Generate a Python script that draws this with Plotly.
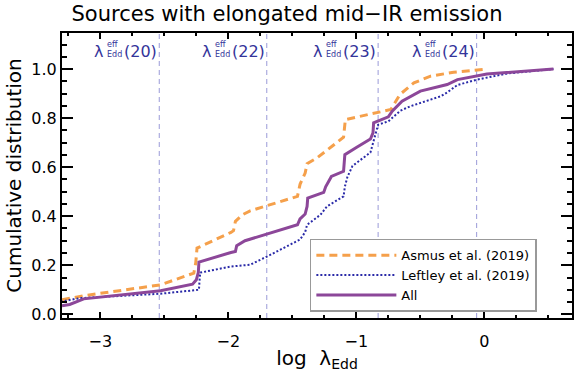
import plotly.graph_objects as go

# ---------------- data ----------------
all_x = [-3.30, -3.24, -3.13, -2.53, -2.28, -2.25, -2.235, -2.23, -1.98, -1.945, -1.935, -1.87,
         -1.46, -1.44, -1.40, -1.385, -1.38, -1.28, -1.255, -1.24, -1.195, -1.10, -1.09, -1.00,
         -0.89, -0.87, -0.865, -0.75, -0.72, -0.643, -0.50, -0.29, -0.21, 0.02, 0.54]
all_y = [0.035, 0.040, 0.063, 0.096, 0.123, 0.141, 0.170, 0.213, 0.252, 0.256, 0.280, 0.300,
         0.365, 0.389, 0.409, 0.440, 0.474, 0.490, 0.497, 0.520, 0.562, 0.583, 0.651, 0.680,
         0.715, 0.740, 0.781, 0.805, 0.828, 0.869, 0.910, 0.937, 0.957, 0.980, 1.000]

asmus_x = [-3.30, -3.13, -2.53, -2.27, -2.255, -2.245, -1.98, -1.96, -1.945, -1.89, -1.83,
           -1.46, -1.44, -1.40, -1.385, -1.31, -1.19, -1.10, -1.086, -0.84, -0.73, -0.66,
           -0.55, -0.42, -0.24, 0.02]
asmus_y = [0.059, 0.076, 0.120, 0.168, 0.210, 0.270, 0.334, 0.341, 0.379, 0.406, 0.422,
           0.481, 0.530, 0.576, 0.614, 0.637, 0.685, 0.722, 0.794, 0.821, 0.835, 0.896,
           0.944, 0.971, 0.987, 1.000]

leftley_x = [-3.31, -3.16, -2.53, -2.23, -2.225, -2.22, -1.98, -1.83, -1.67, -1.44, -1.40,
             -1.385, -1.28, -1.23, -1.10, -1.09, -1.07, -1.03, -0.89, -0.865, -0.83, -0.75,
             -0.656, -0.58, -0.34, -0.29, -0.21, -0.057, 0.18, 0.54]
leftley_y = [0.052, 0.066, 0.084, 0.100, 0.140, 0.170, 0.195, 0.202, 0.243, 0.305, 0.335,
             0.365, 0.406, 0.440, 0.481, 0.520, 0.560, 0.605, 0.660, 0.705, 0.773, 0.787,
             0.830, 0.848, 0.889, 0.905, 0.935, 0.957, 0.982, 1.000]

vline_x = [-2.54, -1.70, -0.83, -0.06]
vline_labels = ["(20)", "(22)", "(23)", "(24)"]

x_ticks = [-3, -2, -1, 0]
x_ticklabels = ["\u22123", "\u22122", "\u22121", "0"]
y_ticks = [0.0, 0.2, 0.4, 0.6, 0.8, 1.0]
y_ticklabels = ["0.0", "0.2", "0.4", "0.6", "0.8", "1.0"]

# ---------------- styles ----------------
FONT = "DejaVu Sans"
C_ALL = "#8c4799"
C_ASM = "#f5a04b"
C_LEF = "#2a2aa8"
C_VL = "#9a9ad8"
C_LAB = "#34349a"

fig = go.Figure()

fig.add_trace(go.Scatter(x=asmus_x, y=asmus_y, mode="lines", name="Asmus et al. (2019)",
                         line=dict(color=C_ASM, width=3, dash="8px,5px")))
fig.add_trace(go.Scatter(x=leftley_x, y=leftley_y, mode="lines", name="Leftley et al. (2019)",
                         line=dict(color=C_LEF, width=2, dash="2px,2px")))
fig.add_trace(go.Scatter(x=all_x, y=all_y, mode="lines", name="All",
                         line=dict(color=C_ALL, width=3)))

for xv, lab in zip(vline_x, vline_labels):
    fig.add_shape(type="line", xref="x", yref="paper", x0=xv, x1=xv, y0=0, y1=1,
                  line=dict(color=C_VL, width=1, dash="5px,4px"), layer="below")
    fig.add_annotation(x=xv, y=1.073, xref="x", yref="y", text="\u03bb", showarrow=False,
                       xanchor="right", yanchor="middle", xshift=-55, borderpad=0,
                       font=dict(family=FONT, size=16, color=C_LAB))
    fig.add_annotation(x=xv, y=1.078, xref="x", yref="y", text="eff<br>Edd", showarrow=False,
                       xanchor="left", yanchor="middle", xshift=-53, align="left", borderpad=0,
                       font=dict(family=FONT, size=8, color=C_LAB))
    fig.add_annotation(x=xv, y=1.073, xref="x", yref="y", text=lab, showarrow=False,
                       xanchor="right", yanchor="middle", xshift=-1, borderpad=0,
                       font=dict(family=FONT, size=16, color=C_LAB))

axis_common = dict(showgrid=False, zeroline=False, showline=True, linecolor="black",
                   linewidth=2, ticks="inside", mirror="allticks", tickcolor="black",
                   tickwidth=1.5, automargin=False,
                   tickfont=dict(family=FONT, size=16, color="black"))

fig.update_xaxes(range=[-3.3, 0.685], tickvals=x_ticks, ticktext=x_ticklabels,
                 ticklen=6, ticklabelstandoff=8,
                 minor=dict(dtick=0.25, ticks="inside", ticklen=3, tickcolor="black", tickwidth=1.5),
                 title=dict(text="log  \u03bb<sub>Edd</sub>", font=dict(family=FONT, size=20, color="black"),
                            standoff=8),
                 **axis_common)
fig.update_yaxes(range=[-0.015, 1.147], tickvals=y_ticks, ticktext=y_ticklabels,
                 ticklen=11,
                 minor=dict(dtick=0.05, ticks="inside", ticklen=5, tickcolor="black", tickwidth=1.5),
                 title=dict(text="Cumulative distribution", font=dict(family=FONT, size=20, color="black"),
                            standoff=4),
                 **axis_common)

fig.update_layout(
    width=581, height=372,
    margin=dict(l=62, r=9, t=33, b=54),
    paper_bgcolor="white", plot_bgcolor="white",
    title=dict(text="Sources with elongated mid\u2212IR emission", x=0.494, xanchor="center",
               y=0.962, yanchor="middle", yref="container",
               font=dict(family=FONT, size=21, color="black")),
    font=dict(family=FONT, color="black"),
    legend=dict(x=0.486, y=0.022, xanchor="left", yanchor="bottom", xref="paper", yref="paper",
                bgcolor="white", bordercolor="#999999", borderwidth=1.5,
                font=dict(family=FONT, size=13, color="black"),
                itemwidth=80, tracegroupgap=0, traceorder="normal"),
    showlegend=True,
)

# remove the default 8px body margin of the page so the figure sits at the top-left corner
fig.write_html("out.html",
               config={"displayModeBar": False},
               post_script="document.body.style.margin='0';document.body.style.padding='0';")
